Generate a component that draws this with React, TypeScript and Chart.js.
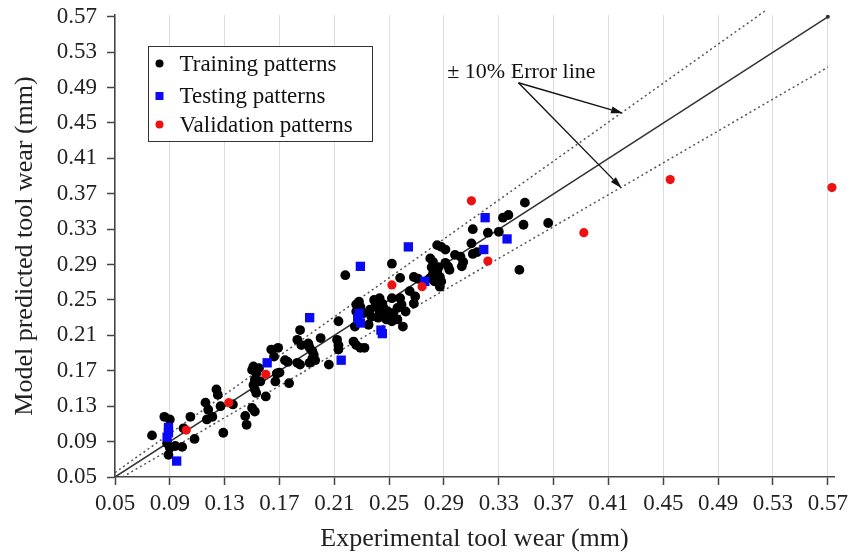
import { useEffect, useRef } from 'react';
import { Chart, registerables } from 'chart.js';

Chart.register(...registerables);

// ---------- data ----------
const axisTicks = [0.05, 0.09, 0.13, 0.17, 0.21, 0.25, 0.29, 0.33, 0.37, 0.41, 0.45, 0.49, 0.53, 0.57];

const trainingPoints: [number, number][] = [
  [0.077, 0.097], [0.086, 0.118], [0.090, 0.115], [0.088, 0.088], [0.090, 0.083], [0.094, 0.085],
  [0.099, 0.084], [0.089, 0.075], [0.105, 0.118], [0.108, 0.093], [0.116, 0.134], [0.118, 0.126],
  [0.117, 0.115], [0.121, 0.118], [0.124, 0.149], [0.125, 0.143], [0.127, 0.130], [0.129, 0.100],
  [0.100, 0.105], [0.136, 0.132], [0.145, 0.119], [0.146, 0.109], [0.150, 0.128], [0.152, 0.124],
  [0.150, 0.171], [0.153, 0.167], [0.152, 0.160], [0.151, 0.154], [0.156, 0.158], [0.152, 0.149],
  [0.153, 0.145], [0.160, 0.141], [0.155, 0.173], [0.151, 0.175], [0.164, 0.194], [0.166, 0.186],
  [0.169, 0.196], [0.168, 0.167], [0.170, 0.168], [0.167, 0.158], [0.174, 0.182], [0.176, 0.180],
  [0.177, 0.156], [0.183, 0.179], [0.185, 0.177], [0.185, 0.216], [0.183, 0.205], [0.186, 0.199],
  [0.191, 0.201], [0.192, 0.196], [0.194, 0.192], [0.195, 0.188], [0.194, 0.184], [0.196, 0.182],
  [0.192, 0.179], [0.200, 0.207], [0.206, 0.177], [0.212, 0.205], [0.213, 0.199], [0.213, 0.194],
  [0.213, 0.226], [0.224, 0.203], [0.226, 0.199], [0.229, 0.196], [0.232, 0.196], [0.225, 0.220],
  [0.218, 0.278], [0.226, 0.245], [0.228, 0.248], [0.229, 0.242], [0.226, 0.237], [0.231, 0.235],
  [0.235, 0.222], [0.236, 0.239], [0.237, 0.231], [0.239, 0.250], [0.240, 0.243], [0.242, 0.230],
  [0.243, 0.252], [0.245, 0.246], [0.243, 0.237], [0.246, 0.241], [0.247, 0.233], [0.248, 0.228],
  [0.249, 0.237], [0.252, 0.226], [0.253, 0.235], [0.256, 0.241], [0.252, 0.252], [0.256, 0.228],
  [0.258, 0.252], [0.259, 0.245], [0.262, 0.237], [0.260, 0.220], [0.252, 0.291], [0.258, 0.275],
  [0.265, 0.260], [0.269, 0.254], [0.268, 0.246], [0.268, 0.276], [0.271, 0.274], [0.280, 0.297],
  [0.282, 0.293], [0.281, 0.287], [0.285, 0.312], [0.288, 0.310], [0.291, 0.307], [0.280, 0.275],
  [0.282, 0.280], [0.285, 0.282], [0.283, 0.271], [0.286, 0.273], [0.288, 0.271], [0.287, 0.265],
  [0.291, 0.292], [0.293, 0.288], [0.294, 0.284], [0.298, 0.301], [0.302, 0.299], [0.304, 0.293],
  [0.303, 0.288], [0.311, 0.302], [0.314, 0.304], [0.286, 0.287], [0.287, 0.276], [0.311, 0.330],
  [0.322, 0.326], [0.330, 0.327], [0.310, 0.314], [0.333, 0.343], [0.337, 0.346], [0.348, 0.335],
  [0.349, 0.360], [0.366, 0.337], [0.345, 0.284],
];

const testingPoints: [number, number][] = [
  [0.089, 0.106], [0.089, 0.100], [0.088, 0.095], [0.095, 0.068], [0.161, 0.179], [0.192, 0.230],
  [0.215, 0.182], [0.228, 0.235], [0.227, 0.229], [0.229, 0.224], [0.244, 0.216], [0.245, 0.212],
  [0.264, 0.310], [0.229, 0.288], [0.276, 0.271], [0.320, 0.343], [0.336, 0.319], [0.319, 0.307],
];

const validationPoints: [number, number][] = [
  [0.102, 0.103], [0.133, 0.134], [0.160, 0.166], [0.252, 0.267], [0.274, 0.265],
  [0.310, 0.362], [0.322, 0.294], [0.392, 0.326], [0.455, 0.386], [0.573, 0.377],
];

const idealLine: [number, number][] = [[0.05, 0.05], [0.57, 0.57]];
const upperErrorLine: [number, number][] = [[0.05, 0.055], [0.525, 0.5775]];
const lowerErrorLine: [number, number][] = [[0.0556, 0.05], [0.57, 0.513]];

const annotationText = '\u00B1 10% Error line';
const annotationAnchor: [number, number] = [0.2924, 0.5076];
const arrowStart: [number, number] = [0.3443, 0.4955];
const arrowTips: [number, number][] = [[0.4206, 0.461], [0.4197, 0.3763]];

const legendLabels = ['Training patterns', 'Testing patterns', 'Validation patterns'];

const xTitle = 'Experimental tool wear (mm)';
const yTitle = 'Model predicted tool wear (mm)';

// ---------- style ----------
const FONT = "'Liberation Serif', 'Times New Roman', serif";
const BLACK = '#000000';
const BLUE = '#0a0af5';
const RED = '#ee1111';
const AXIS = '#444444';

const toXY = (arr: [number, number][]) => arr.map(([x, y]) => ({ x, y }));

const legendPlugin = {
  id: 'insideLegend',
  afterDraw(chart: any) {
    const ctx = chart.ctx as CanvasRenderingContext2D;
    const ca = chart.chartArea;
    const x0 = Math.round(ca.left + 33) + 0.5;
    const y0 = Math.round(ca.top + 31) + 0.5;
    const w = 224;
    const h = 95;
    ctx.save();
    ctx.fillStyle = '#ffffff';
    ctx.fillRect(x0, y0, w, h);
    ctx.strokeStyle = '#333333';
    ctx.lineWidth = 1;
    ctx.strokeRect(x0, y0, w, h);
    const rows = [y0 + 17, y0 + 49.5, y0 + 78];
    const mx = x0 + 11;
    ctx.fillStyle = BLACK;
    ctx.beginPath();
    ctx.arc(mx, rows[0], 4, 0, Math.PI * 2);
    ctx.fill();
    ctx.fillStyle = BLUE;
    ctx.fillRect(mx - 4, rows[1] - 4, 8, 8);
    ctx.fillStyle = RED;
    ctx.beginPath();
    ctx.arc(mx, rows[2], 4, 0, Math.PI * 2);
    ctx.fill();
    ctx.fillStyle = '#111111';
    ctx.font = `23px ${FONT}`;
    ctx.textBaseline = 'middle';
    ctx.textAlign = 'left';
    legendLabels.forEach((t, i) => ctx.fillText(t, x0 + 31, rows[i] + 1));
    ctx.restore();
  },
};

const annotationPlugin = {
  id: 'errorAnnotation',
  afterDatasetsDraw(chart: any) {
    const ctx = chart.ctx as CanvasRenderingContext2D;
    const xs = chart.scales.x;
    const ys = chart.scales.y;
    ctx.save();
    ctx.fillStyle = '#111111';
    ctx.font = `22px ${FONT}`;
    ctx.textBaseline = 'middle';
    ctx.textAlign = 'left';
    ctx.fillText(annotationText, xs.getPixelForValue(annotationAnchor[0]), ys.getPixelForValue(annotationAnchor[1]));
    const sx = xs.getPixelForValue(arrowStart[0]);
    const sy = ys.getPixelForValue(arrowStart[1]);
    ctx.strokeStyle = '#111111';
    ctx.fillStyle = '#111111';
    ctx.lineWidth = 1.4;
    arrowTips.forEach(([tx, ty]) => {
      const ex = xs.getPixelForValue(tx);
      const ey = ys.getPixelForValue(ty);
      const ang = Math.atan2(ey - sy, ex - sx);
      const len = 12;
      const hw = 3.5;
      const bx = ex - len * Math.cos(ang);
      const by = ey - len * Math.sin(ang);
      ctx.beginPath();
      ctx.moveTo(sx, sy);
      ctx.lineTo(bx, by);
      ctx.stroke();
      ctx.beginPath();
      ctx.moveTo(ex, ey);
      ctx.lineTo(bx + hw * Math.sin(ang), by - hw * Math.cos(ang));
      ctx.lineTo(bx - hw * Math.sin(ang), by + hw * Math.cos(ang));
      ctx.closePath();
      ctx.fill();
    });
    ctx.restore();
  },
};

export default function App() {
  const ref = useRef<HTMLCanvasElement>(null);

  useEffect(() => {
    document.body.style.margin = '0';
    const canvas = ref.current;
    if (!canvas) return;
    const tickSetter = (scale: any) => {
      scale.ticks = axisTicks.map((v) => ({ value: v }));
    };
    const chart = new Chart(canvas, {
      type: 'scatter',
      data: {
        datasets: [
          {
            label: legendLabels[2],
            data: toXY(validationPoints),
            backgroundColor: RED,
            borderColor: RED,
            borderWidth: 0,
            pointRadius: 4.6,
            pointStyle: 'circle',
            clip: false as any,
          },
          {
            label: legendLabels[1],
            data: toXY(testingPoints),
            backgroundColor: BLUE,
            borderColor: BLUE,
            borderWidth: 0,
            pointRadius: 6.6,
            pointStyle: 'rect',
          },
          {
            label: legendLabels[0],
            data: toXY(trainingPoints),
            backgroundColor: BLACK,
            borderColor: BLACK,
            borderWidth: 0,
            pointRadius: 4.9,
            pointStyle: 'circle',
          },
          {
            label: 'y = x',
            data: toXY(idealLine),
            showLine: true,
            borderColor: '#333333',
            borderWidth: 1.5,
            pointRadius: [0, 2] as any,
            pointBackgroundColor: '#333333',
            pointBorderWidth: 0,
            fill: false,
          },
          {
            label: '+10%',
            data: toXY(upperErrorLine),
            showLine: true,
            borderColor: '#555555',
            borderWidth: 1.5,
            borderDash: [2, 3],
            pointRadius: 0,
            fill: false,
            clip: false as any,
          },
          {
            label: '-10%',
            data: toXY(lowerErrorLine),
            showLine: true,
            borderColor: '#555555',
            borderWidth: 1.5,
            borderDash: [2, 3],
            pointRadius: 0,
            fill: false,
          },
        ],
      },
      options: {
        responsive: false,
        animation: false,
        devicePixelRatio: 1,
        layout: { padding: { top: 15, right: 26, left: 0, bottom: 0 } },
        plugins: {
          legend: { display: false },
          tooltip: { enabled: false },
        },
        scales: {
          x: {
            type: 'linear',
            min: 0.05,
            max: 0.5745,
            afterBuildTicks: tickSetter,
            afterFit: (scale: any) => {
              scale.height = 76;
              scale.paddingLeft = 0;
              scale.paddingRight = 0;
            },
            grid: {
              color: '#dddddd',
              lineWidth: 1,
              tickColor: AXIS,
              tickLength: 8,
              tickWidth: 1.5,
            },
            border: { color: AXIS, width: 1.5 },
            ticks: {
              autoSkip: false,
              maxRotation: 0,
              padding: 5,
              color: '#222222',
              font: { family: FONT, size: 23 },
              callback: (v: any) => Number(v).toFixed(2),
            },
            title: {
              display: true,
              text: xTitle,
              color: '#222222',
              font: { family: FONT, size: 26 },
              padding: { top: 0, bottom: -2 },
            },
          },
          y: {
            type: 'linear',
            min: 0.05,
            max: 0.572,
            afterBuildTicks: tickSetter,
            afterFit: (scale: any) => {
              scale.width = 115;
              scale.paddingTop = 0;
              scale.paddingBottom = 0;
            },
            grid: {
              drawOnChartArea: false,
              tickColor: AXIS,
              tickLength: 8,
              tickWidth: 1.5,
            },
            border: { color: AXIS, width: 1.5 },
            ticks: {
              autoSkip: false,
              padding: 10,
              color: '#222222',
              font: { family: FONT, size: 23 },
              callback: (v: any) => Number(v).toFixed(2),
            },
            title: {
              display: true,
              text: yTitle,
              color: '#222222',
              font: { family: FONT, size: 26 },
              padding: { top: 10, bottom: 0 },
            },
          },
        },
      },
      plugins: [annotationPlugin, legendPlugin],
    });
    return () => chart.destroy();
  }, []);

  return (
    <div style={{ width: 860, height: 553 }}>
      <canvas ref={ref} width={860} height={553} style={{ display: 'block' }} />
    </div>
  );
}
